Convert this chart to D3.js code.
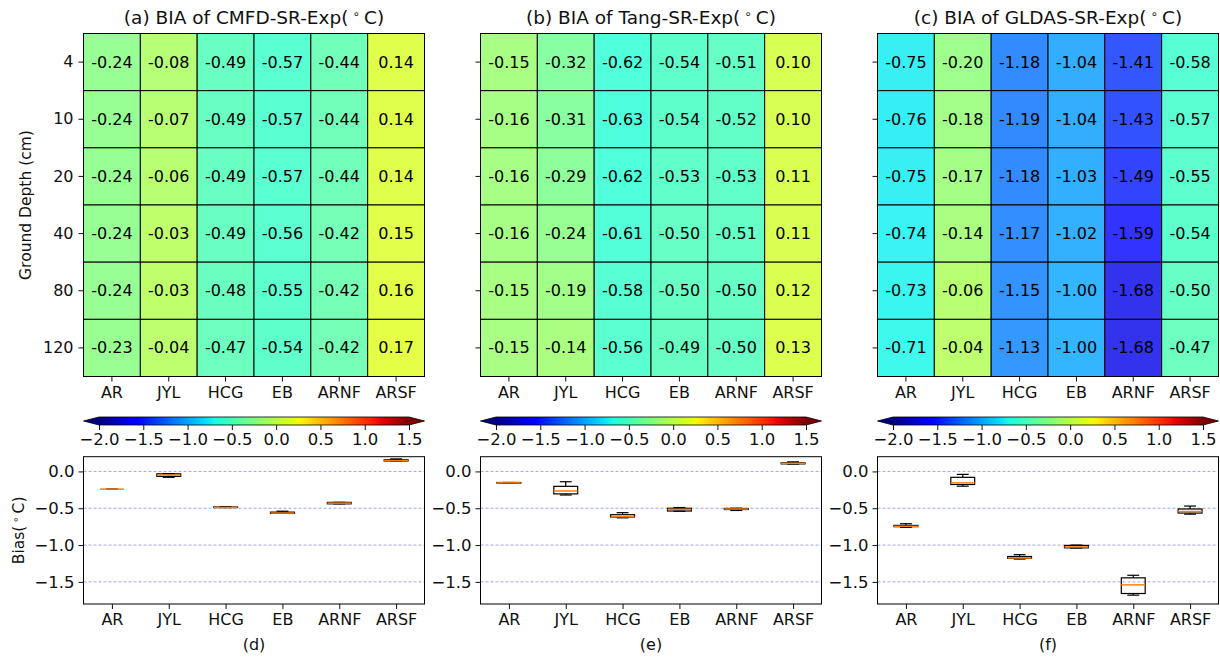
<!DOCTYPE html>
<html><head><meta charset="utf-8">
<script src="https://cdn.jsdelivr.net/npm/d3@7"></script>
<style>body{margin:0;background:#fff} text{font-family:"DejaVu Sans",sans-serif;fill:#111}</style>
</head><body><svg id="c" width="1220" height="658"></svg>
<script>
const stations = ["AR","JYL","HCG","EB","ARNF","ARSF"];
const depths = [4,10,20,40,80,120];
const cmfd = [
  [-0.24,-0.08,-0.49,-0.57,-0.44,0.14],
  [-0.24,-0.07,-0.49,-0.57,-0.44,0.14],
  [-0.24,-0.06,-0.49,-0.57,-0.44,0.14],
  [-0.24,-0.03,-0.49,-0.56,-0.42,0.15],
  [-0.24,-0.03,-0.48,-0.55,-0.42,0.16],
  [-0.23,-0.04,-0.47,-0.54,-0.42,0.17]];
const tang = [
  [-0.15,-0.32,-0.62,-0.54,-0.51,0.10],
  [-0.16,-0.31,-0.63,-0.54,-0.52,0.10],
  [-0.16,-0.29,-0.62,-0.53,-0.53,0.11],
  [-0.16,-0.24,-0.61,-0.50,-0.51,0.11],
  [-0.15,-0.19,-0.58,-0.50,-0.50,0.12],
  [-0.15,-0.14,-0.56,-0.49,-0.50,0.13]];
const gldas = [
  [-0.75,-0.20,-1.18,-1.04,-1.41,-0.58],
  [-0.76,-0.18,-1.19,-1.04,-1.43,-0.57],
  [-0.75,-0.17,-1.18,-1.03,-1.49,-0.55],
  [-0.74,-0.14,-1.17,-1.02,-1.59,-0.54],
  [-0.73,-0.06,-1.15,-1.00,-1.68,-0.50],
  [-0.71,-0.04,-1.13,-1.00,-1.68,-0.47]];
const titles = ["(a) BIA of CMFD-SR-Exp(", "(b) BIA of Tang-SR-Exp(", "(c) BIA of GLDAS-SR-Exp("];
const subLabels = ["(d)","(e)","(f)"];
const cbTicks = [-2.0,-1.5,-1.0,-0.5,0.0,0.5,1.0,1.5];
const biasTicks = [0.0,-0.5,-1.0,-1.5];
const datasets = [cmfd, tang, gldas];

// matplotlib jet
function interp(pts, x){
  for(let i=1;i<pts.length;i++){ if(x<=pts[i][0]){const [x0,y0]=pts[i-1],[x1,y1]=pts[i];return y0+(y1-y0)*(x-x0)/(x1-x0);} }
  return pts[pts.length-1][1];
}
const R=[[0,0],[0.35,0],[0.66,1],[0.89,1],[1,0.5]];
const G=[[0,0],[0.125,0],[0.375,1],[0.64,1],[0.91,0],[1,0]];
const B=[[0,0.5],[0.11,1],[0.34,1],[0.65,0],[1,0]];
function jet(t, a=1){
  t=Math.max(0,Math.min(1,t));
  const c=[interp(R,t),interp(G,t),interp(B,t)].map(v=>Math.round(255*(a*v+(1-a))));
  return `rgb(${c[0]},${c[1]},${c[2]})`;
}
const norm = d3.scaleLinear().domain([-2,1.5]).range([0,1]);

const svg = d3.select("#c");
const lefts = [83.5, 480.5, 877.5];
const W = 341, hmTop = 33.5, hmH = 343;
const cbTop = 417, cbH = 8;
const bxTop = 456.7, bxBot = 604;
const tickFS = "16px";

const defs = svg.append("defs");
const grad = defs.append("linearGradient").attr("id","jetg");
for(let i=0;i<=64;i++){ grad.append("stop").attr("offset",(i/64*100)+"%").attr("stop-color",jet(i/64)); }

function styleAxis(a, fs){
  a.select(".domain").remove();
  a.attr("font-family",null).attr("font-size",null);
  a.selectAll("text").style("font-size",fs).style("font-family","DejaVu Sans").style("fill","#111");
  a.selectAll("line").attr("stroke","#111");
}

datasets.forEach((data, p) => {
  const L = lefts[p];
  const g = svg.append("g");
  const x = d3.scaleBand().domain(stations).range([L, L+W]);
  const y = d3.scaleBand().domain(depths).range([hmTop, hmTop+hmH]);
  data.forEach((row, i) => row.forEach((v, j) => {
    g.append("rect").attr("x", x(stations[j])).attr("y", y(depths[i]))
      .attr("width", x.bandwidth()).attr("height", y.bandwidth())
      .attr("fill", jet(norm(v), 0.8)).attr("stroke", "#000").attr("stroke-width", 1);
    g.append("text").attr("x", x(stations[j]) + x.bandwidth()/2).attr("y", y(depths[i]) + y.bandwidth()/2)
      .attr("text-anchor","middle").attr("dominant-baseline","central")
      .style("font-size","16px").style("fill","#000").text(v.toFixed(2));
  }));
  g.append("rect").attr("x",L).attr("y",hmTop).attr("width",W).attr("height",hmH)
    .attr("fill","none").attr("stroke","#000").attr("stroke-width",1);
  const t = g.append("text").attr("x", L+W/2).attr("y", 24).attr("text-anchor","middle").style("font-size","18.5px");
  t.append("tspan").text(titles[p]);
  t.append("tspan").attr("dx", 4).attr("dy", -6).style("font-size","12px").text("∘");
  t.append("tspan").attr("dx", 4).attr("dy", 6).text("C)");
  const xa = g.append("g").attr("transform", `translate(0,${hmTop+hmH})`)
    .call(d3.axisBottom(x).tickSize(5).tickPadding(5));
  styleAxis(xa, tickFS);
  const ya = g.append("g").attr("transform", `translate(${L},0)`)
    .call(d3.axisLeft(y).tickSize(5).tickPadding(5).tickFormat(p===0 ? d=>d : ()=>""));
  styleAxis(ya, tickFS);

  // colorbar
  const Lc = W/1.1, ext = 0.05*Lc;
  const cx = d3.scaleLinear().domain([-2,1.5]).range([L+ext, L+ext+Lc]);
  const cb = svg.append("g");
  cb.append("rect").attr("x", cx(-2)).attr("y", cbTop).attr("width", Lc).attr("height", cbH).attr("fill","url(#jetg)");
  cb.append("path").attr("d", `M${cx(-2)},${cbTop}L${L},${cbTop+cbH/2}L${cx(-2)},${cbTop+cbH}Z`).attr("fill", jet(0));
  cb.append("path").attr("d", `M${cx(1.5)},${cbTop}L${L+W},${cbTop+cbH/2}L${cx(1.5)},${cbTop+cbH}Z`).attr("fill", jet(1));
  cb.append("path").attr("d", `M${cx(-2)},${cbTop}L${L},${cbTop+cbH/2}L${cx(-2)},${cbTop+cbH}L${cx(1.5)},${cbTop+cbH}L${L+W},${cbTop+cbH/2}L${cx(1.5)},${cbTop}Z`)
    .attr("fill","none").attr("stroke","#000").attr("stroke-width",0.8);
  const ca = cb.append("g").attr("transform", `translate(0,${cbTop+cbH})`)
    .call(d3.axisBottom(cx).tickValues(cbTicks).tickSize(5).tickPadding(3).tickFormat(d3.format(".1f")));
  styleAxis(ca, "16.5px");

  // box plot
  const bx = d3.scaleLinear().domain([0.5,6.5]).range([L, L+W]);
  const by = d3.scaleLinear().domain([-1.8,0.2]).range([bxBot, bxTop]);
  const bg = svg.append("g");
  biasTicks.forEach(v => bg.append("line").attr("x1",L).attr("x2",L+W).attr("y1",by(v)).attr("y2",by(v))
    .attr("stroke","#4444dd").attr("stroke-opacity",0.7).attr("stroke-width",0.7).attr("stroke-dasharray","3,2"));
  const bw = 0.42, cw = bw/2;
  stations.forEach((s, j) => {
    const vals = data.map(r => r[j]).sort(d3.ascending);
    const q1 = d3.quantile(vals,0.25), med = d3.quantile(vals,0.5), q3 = d3.quantile(vals,0.75);
    const iqr = q3-q1;
    const lo = d3.min(vals.filter(v => v >= q1-1.5*iqr)), hi = d3.max(vals.filter(v => v <= q3+1.5*iqr));
    const xc = j+1;
    const line = (x1,y1,x2,y2,c,w) => bg.append("line").attr("x1",bx(x1)).attr("x2",bx(x2)).attr("y1",by(y1)).attr("y2",by(y2)).attr("stroke",c).attr("stroke-width",w);
    line(xc,q1,xc,lo,"#000",1.2); line(xc,q3,xc,hi,"#000",1.2);
    line(xc-cw/2,lo,xc+cw/2,lo,"#000",1.2); line(xc-cw/2,hi,xc+cw/2,hi,"#000",1.2);
    bg.append("rect").attr("x",bx(xc-bw/2)).attr("y",by(q3)).attr("width",bx(xc+bw/2)-bx(xc-bw/2)).attr("height",Math.max(0,by(q1)-by(q3)))
      .attr("fill","none").attr("stroke","#000").attr("stroke-width",1.2);
    line(xc-bw/2,med,xc+bw/2,med,"#ff7f0e",1.5);
  });
  bg.append("rect").attr("x",L).attr("y",bxTop).attr("width",W).attr("height",bxBot-bxTop).attr("fill","none").attr("stroke","#000").attr("stroke-width",1);
  const bxa = bg.append("g").attr("transform",`translate(0,${bxBot})`)
    .call(d3.axisBottom(bx).tickValues([1,2,3,4,5,6]).tickSize(5).tickPadding(5).tickFormat(d => stations[d-1]));
  styleAxis(bxa, tickFS);
  const bya = bg.append("g").attr("transform",`translate(${L},0)`)
    .call(d3.axisLeft(by).tickValues(biasTicks).tickSize(5).tickPadding(4).tickFormat(d3.format(".1f")));
  styleAxis(bya, "16.5px");
  bg.append("text").attr("x",L+W/2).attr("y",650).attr("text-anchor","middle").style("font-size","16px").text(subLabels[p]);
});

svg.append("text").attr("transform",`translate(31,${hmTop+hmH/2}) rotate(-90)`).attr("text-anchor","middle")
  .style("font-size","15.5px").text("Ground Depth (cm)");
const bl = svg.append("text").attr("transform",`translate(24,${(bxTop+bxBot)/2}) rotate(-90)`).attr("text-anchor","middle").style("font-size","15.5px");
bl.append("tspan").text("Bias(");
bl.append("tspan").attr("dx",3).attr("dy",-5).style("font-size","10px").text("∘");
bl.append("tspan").attr("dx",3).attr("dy",5).text("C)");
</script></body></html>
